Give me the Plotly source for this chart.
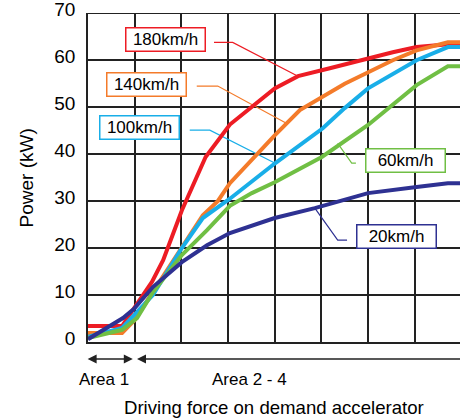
import plotly.graph_objects as go

# ---- data (x: driving force, grid units; y: power kW) ----
x_180 = [0, 0.73, 0.96, 1.37, 1.61, 1.82, 2.01, 2.52, 3.04, 4.0, 4.5, 5.18, 6.0, 6.53, 7.04, 7.97]
y_180 = [3.4, 3.4, 6.8, 12.8, 17.4, 22.8, 28.0, 39.4, 46.3, 54.0, 56.6, 58.3, 60.4, 61.7, 62.8, 63.6]

x_140 = [0, 0.73, 1.0, 2.01, 2.46, 2.78, 3.04, 4.0, 4.54, 5.5, 6.53, 7.04, 7.71, 7.97]
y_140 = [1.9, 1.9, 4.7, 20.2, 27.0, 30.0, 33.8, 44.0, 49.4, 55.0, 60.0, 62.1, 63.8, 63.8]

x_100 = [0, 0.73, 1.39, 2.01, 2.46, 3.04, 4.0, 5.03, 5.5, 6.0, 7.04, 7.71, 7.97]
y_100 = [1.1, 3.0, 10.0, 20.0, 26.4, 30.5, 38.0, 45.5, 49.8, 54.0, 60.0, 62.8, 62.8]

x_60 = [0, 0.73, 1.05, 1.39, 2.01, 2.55, 3.04, 3.51, 4.0, 5.01, 6.0, 6.53, 7.04, 7.71, 7.97]
y_60 = [0.85, 2.6, 5.1, 10.6, 18.5, 23.8, 29.0, 31.7, 34.0, 39.4, 46.2, 50.4, 54.7, 58.7, 58.7]

x_20 = [0, 0.75, 1.0, 1.39, 2.01, 2.55, 3.04, 4.0, 4.86, 5.46, 6.0, 7.04, 7.71, 7.97]
y_20 = [0.6, 5.1, 7.2, 11.7, 17.0, 20.6, 23.2, 26.4, 28.5, 30.2, 31.7, 33.0, 33.8, 33.8]

series_names = ["180km/h", "140km/h", "100km/h", "60km/h", "20km/h"]
series_colors = ["#ed1c24", "#f47b2a", "#19aee8", "#70bf44", "#2e3192"]
series_x = [x_180, x_140, x_100, x_60, x_20]
series_y = [y_180, y_140, y_100, y_60, y_20]

# callout label positions (data coords) and connector polylines
label_x = [1.66, 1.25, 1.11, 6.81, 6.61]
label_y = [64.5, 54.9, 45.6, 38.7, 22.4]
conn_x = [[2.70, 3.10, 4.50], [2.33, 2.78, 4.28], [2.18, 2.61, 4.00], [5.35, 5.65, 5.74], [5.55, 5.35, 4.86]]
conn_y = [[63.8, 63.8, 56.6], [54.5, 54.5, 46.4], [45.1, 45.1, 38.1], [42.3, 38.1, 38.1], [21.7, 21.7, 28.5]]

y_ticks = [0, 10, 20, 30, 40, 50, 60, 70]
area_labels = ["Area 1", "Area 2 - 4"]
x_title = "Driving force on demand accelerator"
y_title = "Power (kW)"

FONT = "Liberation Sans, Arial, sans-serif"

fig = go.Figure()

for cx, cy, col in zip(conn_x, conn_y, series_colors):
    fig.add_trace(go.Scatter(x=cx, y=cy, mode="lines", line=dict(color=col, width=1.2),
                             hoverinfo="skip", showlegend=False))

for xs, ys, col, nm in zip(series_x, series_y, series_colors, series_names):
    fig.add_trace(go.Scatter(x=xs, y=ys, mode="lines", name=nm,
                             line=dict(color=col, width=4), showlegend=False))

annotations = []
for lx, ly, nm, col in zip(label_x, label_y, series_names, series_colors):
    annotations.append(dict(x=lx, y=ly, xref="x", yref="y", text=nm, showarrow=False,
                            font=dict(family=FONT, size=17, color="black"),
                            bgcolor="white", bordercolor=col, borderwidth=1.5,
                            borderpad=1, width=76, height=20))

# bottom area arrows
arrow_y = -0.0517
annotations.append(dict(x=0.96, y=arrow_y, ax=-0.04, ay=0, xref="x", yref="paper",
                        axref="x", ayref="pixel", text="", showarrow=True,
                        arrowhead=2, arrowside="end+start", arrowsize=1.2,
                        arrowwidth=1.5, arrowcolor="#222"))
annotations.append(dict(x=1.05, y=arrow_y, ax=8.3, ay=0, xref="x", yref="paper",
                        axref="x", ayref="pixel", text="", showarrow=True,
                        arrowhead=2, arrowside="end", arrowsize=1.2,
                        arrowwidth=1.5, arrowcolor="#222"))
annotations.append(dict(x=0.35, y=-0.1155, xref="x", yref="paper", text=area_labels[0],
                        xanchor="center", yanchor="middle",
                        showarrow=False, font=dict(family=FONT, size=17, color="black")))
annotations.append(dict(x=3.45, y=-0.1155, xref="x", yref="paper", text=area_labels[1],
                        xanchor="center", yanchor="middle",
                        showarrow=False, font=dict(family=FONT, size=17, color="black")))
annotations.append(dict(x=0.5, y=-0.2, xref="paper", yref="paper", text=x_title,
                        xanchor="center", yanchor="middle",
                        showarrow=False, font=dict(family=FONT, size=18.6, color="black")))
annotations.append(dict(x=-0.164, y=0.5, xref="paper", yref="paper", text=y_title,
                        xanchor="center", yanchor="middle",
                        textangle=-90, showarrow=False,
                        font=dict(family=FONT, size=19, color="black")))

fig.update_layout(
    width=460, height=420,
    margin=dict(l=88, r=0, t=13, b=78),
    paper_bgcolor="white", plot_bgcolor="white",
    showlegend=False,
    annotations=annotations,
    xaxis=dict(range=[0, 7.97], dtick=1, tick0=0, showticklabels=False, ticks="",
               showgrid=True, gridcolor="#222", gridwidth=1.5, zeroline=False,
               showline=True, linecolor="#222", linewidth=1.5, fixedrange=True),
    yaxis=dict(range=[0, 70.05], tickvals=y_ticks, ticks="", ticklabelstandoff=7,
               ticklabelshift=-4, ticklabeloverflow="allow",
               tickfont=dict(family=FONT, size=19, color="black"),
               showgrid=True, gridcolor="#222", gridwidth=1.5, zeroline=False,
               showline=True, linecolor="#222", linewidth=1.5, mirror=False,
               fixedrange=True),
)
# top border at the highest tick
fig.add_shape(type="line", xref="paper", yref="y", x0=0, x1=1,
              y0=y_ticks[-1], y1=y_ticks[-1], line=dict(color="#222", width=1.5),
              layer="below")

fig.write_html("out.html")
